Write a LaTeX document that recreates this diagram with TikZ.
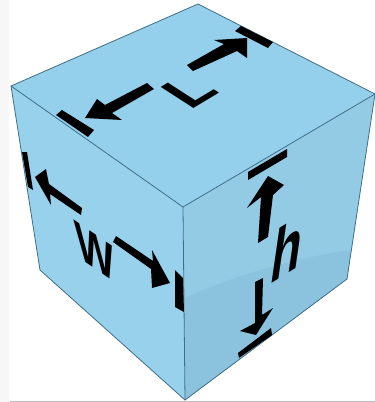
\documentclass[tikz,border=0pt]{standalone}
\usepackage{fontspec}
\setsansfont{Liberation Sans}
\usetikzlibrary{calc}

\definecolor{topblue}{HTML}{94CFEB}
\definecolor{leftblue}{HTML}{98D1EC}
\definecolor{rightblue}{HTML}{93CBE5}
\definecolor{shadeblue}{HTML}{8BC3DE}
\definecolor{edgeblue}{HTML}{3F6F85}

\tikzset{
  face/.style={draw=edgeblue, line width=0.8pt, line join=round},
  inkshape/.style={fill=black, line join=round},
  letter/.style={inner sep=0pt, font=\sffamily\bfseries\fontsize{10}{10}\selectfont},
}

\begin{document}
\begin{tikzpicture}[x=1pt, y=-1pt, line cap=round, line join=round]
  \useasboundingbox (0,0) rectangle (375,402);
  \fill[white] (0,0) rectangle (375,402);
  \fill[black!3] (0,0) rectangle (9,402);
  \fill[black!25] (10,400.5) rectangle (375,402);

  % cube corners
  \coordinate (back) at (198,4);
  \coordinate (left) at (11,86);
  \coordinate (right) at (375,94);
  \coordinate (front) at (183,207);
  \coordinate (lowleft) at (40,270);
  \coordinate (low) at (185,400);
  \coordinate (lowright) at (347,279);

  % faces
  \fill[leftblue] (left) -- (front) -- (low) -- (lowleft) -- cycle;
  \fill[rightblue] (front) -- (right) -- (lowright) -- (low) -- cycle;
  \fill[topblue] (back) -- (right) -- (front) -- (left) -- cycle;
  \fill[shadeblue] (185,298) .. controls (235,275) and (295,258) .. (351,250) -- (lowright) -- (low) -- cycle;
  \draw[face] (back) -- (right) -- (front) -- (left) -- cycle;
  \draw[face] (left) -- (lowleft) -- (low) -- (lowright) -- (right);
  \draw[face] (front) -- (low);

  % L
  \fill[inkshape] (56,115) -- (62,110) -- (94,130) -- (88,137) -- cycle;
  \fill[inkshape] (85,118) -- (97,99) -- (105,105) -- (147,83) -- (154,89) -- (112,113) -- (122,120) -- cycle;
  \fill[inkshape] (187,65) -- (224,44) -- (214,40) -- (247,38) -- (247,58) -- (237,51) -- (193,71) -- cycle;
  \fill[inkshape] (235,31) -- (241,26) -- (273,42) -- (268,48) -- cycle;
  \node[letter, cm={5.0,3.0,-4.75,3.07,(0,0)}] (lengthlabel) at (189,91) {L};

  % W
  \fill[inkshape] (22,152) -- (27,152) -- (33,190) -- (28,187) -- cycle;
  \fill[inkshape] (35,177) -- (46,169) -- (49,184) -- (82,208) -- (81,215) -- (50,194) -- (51,205) -- cycle;
  \fill[inkshape] (116,236) -- (153,261) -- (152,250) -- (170,283) -- (152,288) -- (151,269) -- (113,242) -- cycle;
  \fill[inkshape] (175,270) -- (183,278) -- (184,312) -- (175,307) -- cycle;
  \node[letter, cm={4.1,-2.8,-0.7,5.5,(0,0)}] (widthlabel) at (95,252) {W};

  % h
  \fill[inkshape] (248,172) -- (287,149) -- (287,157) -- (248,180) -- cycle;
  \fill[inkshape] (268,176) -- (284,185) -- (273,195) -- (268,237) -- (258,243) -- (261,197) -- (247,208) -- cycle;
  \fill[inkshape] (255,282) -- (263,278) -- (262,315) -- (273,308) -- (256,335) -- (240,331) -- (255,323) -- cycle;
  \fill[inkshape] (238,353) -- (271,328) -- (272,335) -- (239,358) -- cycle;
  \node[letter, cm={5.0,3.1,1.1,7.6,(0,0)}] (heightlabel) at (288,248) {h};
\end{tikzpicture}
\end{document}
